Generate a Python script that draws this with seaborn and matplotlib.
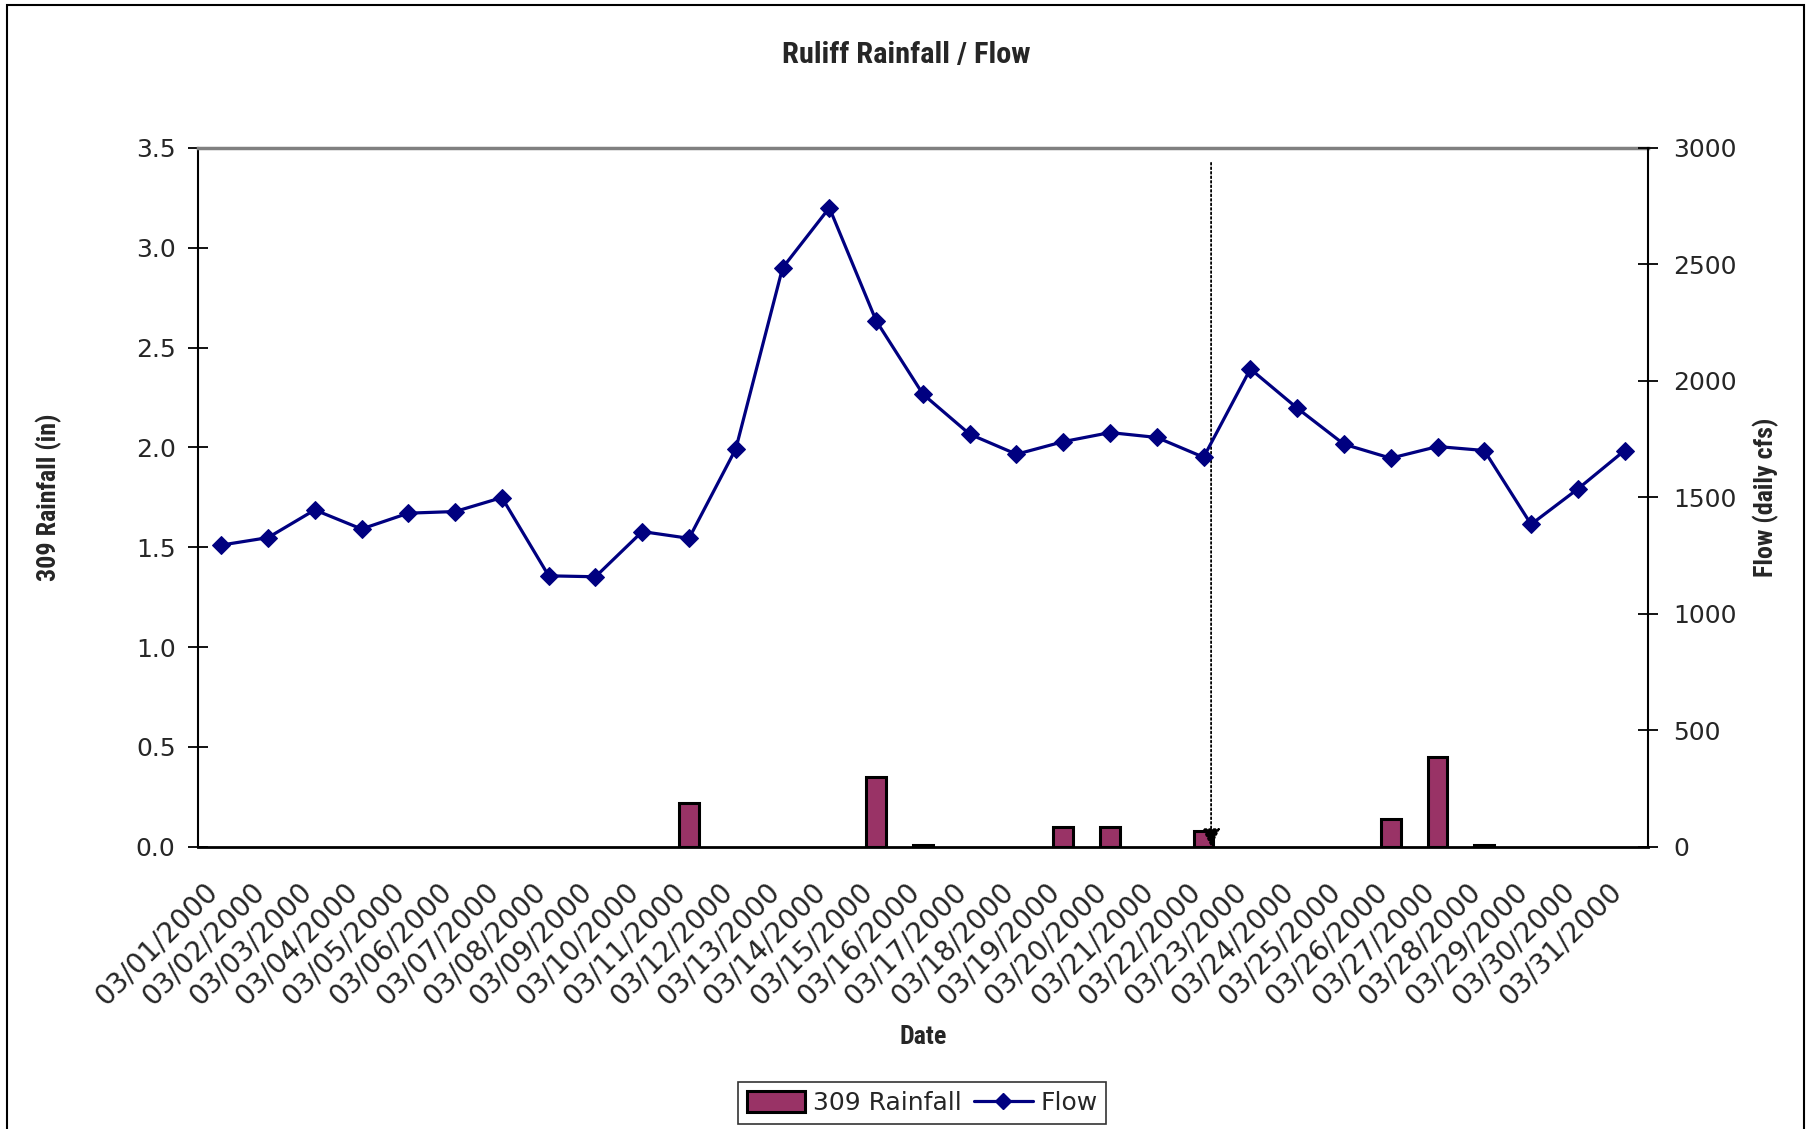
import matplotlib
matplotlib.use("Agg")
import matplotlib.pyplot as plt
import matplotlib.font_manager as fm
from matplotlib.patches import Patch, Rectangle
from matplotlib.lines import Line2D
import seaborn as sns
import pandas as pd
import numpy as np

# ---- data ----
dates = [f"03/{d:02d}/2000" for d in range(1, 32)]
days = list(range(1, 32))
rainfall = [0, 0, 0, 0, 0, 0, 0, 0, 0, 0, 0.22, 0, 0, 0, 0.35, 0.01, 0, 0, 0.10, 0.10,
            0, 0.08, 0, 0, 0, 0.14, 0.45, 0.01, 0, 0, 0]
flow = [1295, 1327, 1446, 1364, 1432, 1439, 1499, 1163, 1159, 1353, 1324, 1708, 2485,
        2743, 2258, 1943, 1771, 1685, 1739, 1778, 1757, 1672, 2051, 1883, 1728, 1668,
        1718, 1701, 1384, 1536, 1701]
left_ticks = [0.0, 0.5, 1.0, 1.5, 2.0, 2.5, 3.0, 3.5]
right_ticks = [0, 500, 1000, 1500, 2000, 2500, 3000]

sns.set_style("white")
plt.rcParams['font.family'] = ['DejaVu Sans']

# choose a narrow / condensed bold font for titles if available
names = {f.name for f in fm.fontManager.ttflist}
narrow_pref = ["Liberation Sans Narrow", "Arial Narrow", "Roboto Condensed",
               "Open Sans Condensed", "Noto Sans Condensed"]
cond_pref = ["DejaVu Sans Condensed"]
narrow = None
for n in narrow_pref:
    if n in names:
        narrow = n
        title_fs, lab_fs = 19, 18
        break
if narrow is None:
    for n in cond_pref:
        if n in names:
            narrow = n
            title_fs, lab_fs = 17.5, 16
            break
if narrow is None:
    cands = [f.name for f in fm.fontManager.ttflist
             if str(f.stretch) in ("condensed", "semi-condensed", "extra-condensed")]
    if cands:
        narrow = cands[0]
        title_fs, lab_fs = 17.5, 16
    else:
        narrow = "DejaVu Sans"
        title_fs, lab_fs = 16, 14.5
title_fs *= 1.15
lab_fs *= 1.04

df = pd.DataFrame({"Day": days, "Date": dates, "Rainfall": rainfall, "Flow": flow})

fig = plt.figure(figsize=(18.15, 11.29), dpi=100)
ax = fig.add_axes([0.109, 0.250, 0.799, 0.619])

sns.barplot(data=df[df.Rainfall > 0], x="Day", y="Rainfall", native_scale=True,
            color="#993366", edgecolor="black", linewidth=2.2, width=0.42,
            saturation=1, ax=ax, zorder=2)
ax.set_xlim(0.5, 31.5)
ax.set_ylim(0, 3.5)

ax2 = ax.twinx()
sns.lineplot(data=df, x="Day", y="Flow", ax=ax2, color="#000080", linewidth=2.3,
             marker="D", markersize=9.5, markeredgecolor="#000080", markerfacecolor="#000080")
ax2.set_ylim(0, 3000)
ax2.set_xlim(0.5, 31.5)

# ticks: labels (slightly left of category centres, as in the original), marks at boundaries
ax.set_xticks(np.array(days) - 0.38)
ax.set_xticklabels(dates, rotation=45, ha="right", rotation_mode="anchor", fontsize=20)
ax.set_xticks(np.arange(0.5, 32, 1), minor=True)
ax.tick_params(axis="x", which="major", length=0, pad=22)
ax.tick_params(axis="x", which="minor", direction="inout", length=14, width=1.3, color="black")
ax.set_yticks(left_ticks)
ax.set_yticklabels([f"{v:.1f}" for v in left_ticks], fontsize=18)
ax.tick_params(axis="y", direction="inout", length=14, width=1.3, color="black", pad=9, left=True)
ax2.set_yticks(right_ticks)
ax2.set_yticklabels([str(v) for v in right_ticks], fontsize=18)
ax2.tick_params(axis="y", direction="inout", length=14, width=1.3, color="black", pad=11, right=True)

# spines
ax.spines["right"].set_visible(False)
for s in ["left", "top", "bottom"]:
    ax2.spines[s].set_visible(False)
ax.spines["top"].set_color("#808080")
ax.spines["top"].set_linewidth(2.5)
ax.spines["left"].set_color("black")
ax.spines["left"].set_linewidth(1.5)
ax.spines["bottom"].set_color("black")
ax.spines["bottom"].set_linewidth(2)
ax2.spines["right"].set_color("black")
ax2.spines["right"].set_linewidth(1.5)

# labels
ax.set_xlabel("Date", fontsize=lab_fs, fontweight="bold", family=narrow)
ax.xaxis.set_label_coords(0.5, -0.2555)
ax.set_ylabel("309 Rainfall (in)", fontsize=lab_fs, fontweight="bold", family=narrow)
ax.yaxis.set_label_coords(-0.0934, 0.5)
ax2.set_ylabel("Flow (daily cfs)", fontsize=lab_fs, fontweight="bold", family=narrow)
ax2.yaxis.set_label_coords(1.0724, 0.5)

fig.text(0.4995, 0.951, "Ruliff Rainfall / Flow", ha="center", va="center",
         fontsize=title_fs, fontweight="bold", family=narrow)

# dotted arrow annotation
ax.annotate("", xy=(22.16, 0.0), xytext=(22.16, 3.425),
            arrowprops=dict(arrowstyle="-|>", linestyle=(0, (1, 1.5)), color="black",
                            lw=1.3, mutation_scale=28, shrinkA=0, shrinkB=0),
            zorder=5)

# legend
handles = [Patch(facecolor="#993366", edgecolor="black", linewidth=2.2, label="309 Rainfall"),
           Line2D([0], [0], color="#000080", lw=2.3, marker="D", markersize=8,
                  label="Flow")]
leg = fig.legend(handles=handles, loc="center", bbox_to_anchor=(0.508, 0.023), ncol=2,
                 fontsize=18, frameon=True, fancybox=False, edgecolor="black",
                 handlelength=2.35, handleheight=0.9, columnspacing=0.5, handletextpad=0.3,
                 borderpad=0.35)
leg.get_frame().set_linewidth(1.2)

# outer frame
fig.patches.append(Rectangle((0.004, -0.01), 0.99, 1.006, transform=fig.transFigure,
                             fill=False, edgecolor="black", linewidth=1.5))

fig.savefig("out.png", dpi=100)
